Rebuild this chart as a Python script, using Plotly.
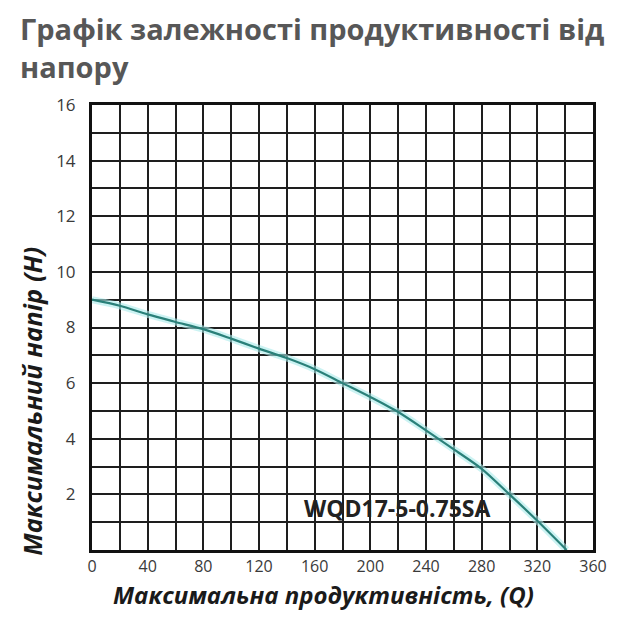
import plotly.graph_objects as go

title_line1 = "Графік залежності продуктивності від"
title_line2 = "напору"
x_title = "Максимальна продуктивність, (Q)"
y_title = "Максимальний напір (H)"
model_label = "WQD17-5-0.75SA"

flow_q = [0, 20, 40, 60, 80, 100, 120, 140, 160, 180, 200, 220, 240, 260, 280, 300, 320, 341]
head_h = [9.0, 8.78, 8.47, 8.2, 7.94, 7.6, 7.24, 6.9, 6.5, 6.0, 5.5, 4.96, 4.3, 3.62, 2.92, 2.0, 1.05, 0.0]

x_ticks = [0, 40, 80, 120, 160, 200, 240, 280, 320, 360]
y_ticks = [2, 4, 6, 8, 10, 12, 14, 16]

fig = go.Figure()
fig.add_trace(go.Scatter(x=flow_q, y=head_h, mode="lines",
                         line=dict(color="rgba(170,235,235,0.6)", width=7, shape="spline", smoothing=0.8),
                         hoverinfo="skip", showlegend=False))
fig.add_trace(go.Scatter(x=flow_q, y=head_h, mode="lines",
                         line=dict(color="#2a8079", width=2.2, shape="spline", smoothing=0.8),
                         showlegend=False))

fig.add_annotation(x=219.5, y=1.52, text="<b>" + model_label + "</b>", showarrow=False,
                   font=dict(family="Open Sans", size=23, color="#222222"),
                   xanchor="center", yanchor="middle")

fig.add_annotation(xref="paper", yref="paper", x=-0.147, y=1.1303,
                   xanchor="left", yanchor="middle", align="left", showarrow=False,
                   text="<b>" + title_line1 + "<br>" + title_line2 + "</b>",
                   font=dict(family="Open Sans", size=29, color="#575757"))

fig.add_annotation(xref="paper", yref="paper", x=0.463, y=-0.101,
                   xanchor="center", yanchor="middle", showarrow=False,
                   text="<b><i>" + x_title + "</i></b>",
                   font=dict(family="Open Sans", size=24, color="#1a1a1a"))
fig.add_annotation(xref="paper", yref="paper", x=-0.12, y=0.335,
                   xanchor="center", yanchor="middle", showarrow=False, textangle=-90,
                   text="<b><i>" + y_title + "</i></b>",
                   font=dict(family="Open Sans", size=25.5, color="#1a1a1a"))

grid_col = "#1e1e1e"
fig.update_layout(
    width=627, height=622,
    paper_bgcolor="white", plot_bgcolor="white",
    margin=dict(l=84, r=42, t=97, b=80),
    xaxis=dict(range=[0, 360], tickvals=x_ticks, ticktext=[str(v) for v in x_ticks],
               showgrid=True, gridcolor=grid_col, gridwidth=2.2,
               minor=dict(dtick=20, tick0=0, showgrid=True, gridcolor=grid_col, gridwidth=2.2),
               showline=True, linecolor="#111111", linewidth=3, mirror=True,
               zeroline=False, ticks="", ticklabelstandoff=0,
               tickfont=dict(family="Open Sans", size=16, color="#3a3a3a")),
    yaxis=dict(range=[0, 16], tickvals=y_ticks, ticktext=[str(v) for v in y_ticks],
               showgrid=True, gridcolor=grid_col, gridwidth=2.2,
               minor=dict(dtick=1, tick0=0, showgrid=True, gridcolor=grid_col, gridwidth=2.2),
               showline=True, linecolor="#111111", linewidth=3, mirror=True,
               zeroline=False, ticks="", ticklabelstandoff=10,
               tickfont=dict(family="Open Sans", size=17, color="#3a3a3a")),
)

fig.write_html("out.html")
